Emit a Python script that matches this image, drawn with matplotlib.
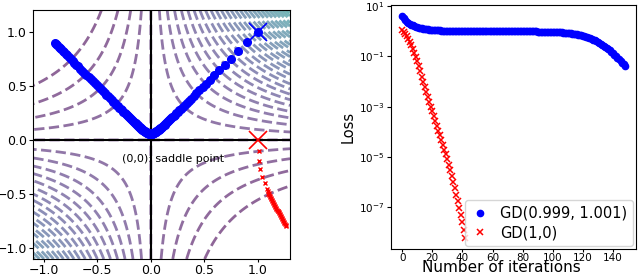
import numpy as np
import matplotlib
matplotlib.use('Agg')
import matplotlib.pyplot as plt

# GD trajectory started at (0.999, 1.001)
blue_x = [0.999, 0.8989, 0.8173, 0.7487, 0.6901, 0.6390, 0.5939, 0.5533, 0.5170, 0.4840,
          0.4538, 0.4262, 0.4007, 0.3772, 0.3553, 0.3350, 0.3160, 0.2983, 0.2817, 0.2662,
          0.2515, 0.2377, 0.2248, 0.2125, 0.2010, 0.1900, 0.1797, 0.1699, 0.1606, 0.1519,
          0.1435, 0.1356, 0.1281, 0.1210, 0.1142, 0.1077, 0.1015, 0.0956, 0.0899, 0.0845,
          0.0794, 0.0744, 0.0696, 0.0650, 0.0606, 0.0564, 0.0523, 0.0484, 0.0446, 0.0409,
          0.0374, 0.0339, 0.0306, 0.0273, 0.0241, 0.0210, 0.0179, 0.0149, 0.0119, 0.0090,
          0.0061, 0.0032, 0.0003, -0.0026,
          -0.0054, -0.0083, -0.0111, -0.0140, -0.0169, -0.0199, -0.0229, -0.0259, -0.0290, -0.0322,
          -0.0354, -0.0387, -0.0421, -0.0456, -0.0492, -0.0529, -0.0567, -0.0607, -0.0648, -0.0690,
          -0.0735, -0.0780, -0.0828, -0.0878, -0.0929, -0.0983, -0.1038, -0.1096, -0.1156, -0.1219,
          -0.1284, -0.1352, -0.1423, -0.1497, -0.1575, -0.1655, -0.1740, -0.1828, -0.1920, -0.2015,
          -0.2115, -0.2218, -0.2326, -0.2438, -0.2554, -0.2675, -0.2800, -0.2931, -0.3067, -0.3207,
          -0.3353, -0.3503, -0.3659, -0.3818, -0.3983, -0.4151, -0.4324, -0.4501, -0.4681, -0.4864,
          -0.5051, -0.5240, -0.5430, -0.5622, -0.5815, -0.6008, -0.6200, -0.6391, -0.6580, -0.6767,
          -0.6950, -0.7130, -0.7305, -0.7476, -0.7641, -0.7800, -0.7952, -0.8098, -0.8238, -0.8370,
          -0.8495, -0.8613, -0.8724, -0.8828, -0.8925]
blue_y = [1.001, 0.9011, 0.8197, 0.7513, 0.6929, 0.6420, 0.5971, 0.5567, 0.5206, 0.4878,
          0.4578, 0.4304, 0.4052, 0.3818, 0.3603, 0.3402, 0.3216, 0.3042, 0.2879, 0.2727,
          0.2584, 0.2450, 0.2324, 0.2206, 0.2095, 0.1990, 0.1892, 0.1799, 0.1711, 0.1629,
          0.1551, 0.1478, 0.1409, 0.1345, 0.1284, 0.1226, 0.1172, 0.1121, 0.1072, 0.1027,
          0.0985, 0.0945, 0.0907, 0.0872, 0.0839, 0.0809, 0.0780, 0.0754, 0.0730, 0.0707,
          0.0687, 0.0668, 0.0651, 0.0636, 0.0622, 0.0610, 0.0599, 0.0590, 0.0582, 0.0577,
          0.0572, 0.0569, 0.0567, 0.0567,
          0.0568, 0.0571, 0.0575, 0.0580, 0.0587, 0.0596, 0.0606, 0.0617, 0.0630, 0.0645,
          0.0661, 0.0678, 0.0698, 0.0719, 0.0741, 0.0766, 0.0792, 0.0821, 0.0851, 0.0883,
          0.0918, 0.0954, 0.0993, 0.1035, 0.1078, 0.1124, 0.1172, 0.1223, 0.1277, 0.1334,
          0.1393, 0.1456, 0.1522, 0.1591, 0.1664, 0.1740, 0.1820, 0.1904, 0.1992, 0.2084,
          0.2180, 0.2280, 0.2385, 0.2494, 0.2607, 0.2726, 0.2848, 0.2977, 0.3111, 0.3249,
          0.3393, 0.3541, 0.3695, 0.3853, 0.4016, 0.4183, 0.4354, 0.4530, 0.4709, 0.4891,
          0.5077, 0.5265, 0.5454, 0.5645, 0.5837, 0.6029, 0.6220, 0.6411, 0.6599, 0.6786,
          0.6968, 0.7148, 0.7322, 0.7493, 0.7657, 0.7816, 0.7968, 0.8113, 0.8253, 0.8385,
          0.8509, 0.8627, 0.8738, 0.8841, 0.8938]
blue_loss = [4.000, 3.276, 2.789, 2.441, 2.185, 1.988, 1.836, 1.711, 1.610, 1.528,
             1.459, 1.400, 1.350, 1.309, 1.272, 1.241, 1.214, 1.190, 1.169, 1.150,
             1.134, 1.120, 1.107, 1.096, 1.086, 1.077, 1.069, 1.062, 1.056, 1.050,
             1.045, 1.041, 1.037, 1.033, 1.030, 1.027, 1.024, 1.022, 1.020, 1.018,
             1.016, 1.014, 1.0127, 1.0114, 1.0102, 1.0091, 1.0082, 1.0073, 1.0065, 1.0058,
             1.0051, 1.0045, 1.0040, 1.0035, 1.0030, 1.0026, 1.0021, 1.0018, 1.0014, 1.0010,
             1.0007, 1.0004, 1.0000, 0.9997,
             0.9994, 0.9991, 0.9987, 0.9984, 0.9980, 0.9976, 0.9972, 0.9968, 0.9963, 0.9959,
             0.9953, 0.9948, 0.9941, 0.9935, 0.9927, 0.9919, 0.9910, 0.9901, 0.9890, 0.9878,
             0.9866, 0.9852, 0.9836, 0.9819, 0.9801, 0.9780, 0.9758, 0.9734, 0.9707, 0.9678,
             0.9645, 0.9610, 0.9571, 0.9529, 0.9483, 0.9432, 0.9376, 0.9316, 0.9249, 0.9177,
             0.9099, 0.9014, 0.8922, 0.8821, 0.8715, 0.8596, 0.8471, 0.8330, 0.8183, 0.8025,
             0.7855, 0.7674, 0.7479, 0.7274, 0.7058, 0.6829, 0.6589, 0.6338, 0.6078, 0.5808,
             0.5529, 0.5245, 0.4953, 0.4659, 0.4364, 0.4068, 0.3775, 0.3485, 0.3201, 0.2926,
             0.2659, 0.2405, 0.2163, 0.1935, 0.1722, 0.1524, 0.1342, 0.1176, 0.1025, 0.0889,
             0.0768, 0.0660, 0.0565, 0.0482, 0.0409]

# GD trajectory started at (1, 0)
red_x = [1.0, 1.006, 1.006, 1.018, 1.040, 1.062, 1.087, 1.095, 1.100, 1.098,
         1.105, 1.110, 1.112, 1.118, 1.123, 1.128, 1.133, 1.138, 1.143, 1.148,
         1.153, 1.158, 1.163, 1.168, 1.173, 1.178, 1.183, 1.188, 1.193, 1.198,
         1.203, 1.208, 1.213, 1.218, 1.223, 1.228, 1.233, 1.238, 1.243, 1.248,
         1.253, 1.258, 1.263]
red_y = [0.0, -0.100, -0.194, -0.270, -0.340, -0.400, -0.457, -0.475, -0.490, -0.500,
         -0.505, -0.515, -0.525, -0.535, -0.544, -0.553, -0.562, -0.571, -0.580, -0.589,
         -0.598, -0.607, -0.616, -0.625, -0.634, -0.643, -0.652, -0.661, -0.670, -0.679,
         -0.688, -0.697, -0.706, -0.715, -0.724, -0.733, -0.742, -0.751, -0.760, -0.769,
         -0.777, -0.786, -0.795]
red_loss = [1.1, 0.977, 0.794, 0.631, 0.490, 0.372, 0.275, 0.200, 0.141, 0.0977,
            0.0631, 0.0398, 0.0251, 0.0158, 0.0100, 6.31e-3, 3.98e-3, 2.51e-3, 1.58e-3, 1.00e-3,
            6.46e-4, 4.17e-4, 2.69e-4, 1.74e-4, 1.12e-4, 7.24e-5, 4.68e-5, 3.02e-5, 1.95e-5, 1.26e-5,
            8.13e-6, 5.01e-6, 3.02e-6, 1.78e-6, 1.02e-6, 5.75e-7, 3.16e-7, 1.70e-7, 9.12e-8, 4.79e-8,
            2.51e-8, 1.26e-8, 6.03e-9]

fig = plt.figure(figsize=(6.4, 2.76), dpi=100)

# left: loss landscape (1 + xy)^2 with the two GD paths
ax1 = fig.add_axes([0.0516, 0.0616, 0.4016, 0.902])
xs = np.linspace(-1.1, 1.3, 400)
ys = np.linspace(-1.1, 1.2, 400)
X, Y = np.meshgrid(xs, ys)
Z = (1 + X * Y) ** 2
ax1.contour(X, Y, Z, levels=np.arange(0.2, 7.0, 0.2), cmap='viridis', vmin=0.2, vmax=13,
            linestyles='dashed', linewidths=2, alpha=0.6)
ax1.axhline(0, color='black', lw=1.5)
ax1.axvline(0, color='black', lw=1.5)
ax1.plot(blue_x, blue_y, 'o', color='blue', ms=5.5)
ax1.plot(red_x[1:], red_y[1:], 'x', color='red', ms=3.5, mew=1)
ax1.plot(blue_x[0], blue_y[0], 'x', color='blue', ms=13, mew=1.2)
ax1.plot(red_x[0], red_y[0], 'x', color='red', ms=13, mew=1.2)
ax1.text(-0.27, -0.2, '(0,0): saddle point', fontsize=8)
ax1.set_xlim(-1.1, 1.3)
ax1.set_ylim(-1.1, 1.2)
ax1.set_xticks([-1.0, -0.5, 0.0, 0.5, 1.0])
ax1.set_yticks([-1.0, -0.5, 0.0, 0.5, 1.0])
ax1.tick_params(labelsize=9)
ax1.tick_params(axis='x', length=2.5, pad=0.8)
ax1.tick_params(axis='y', length=3, pad=1.5)

# right: loss curves
ax2 = fig.add_axes([0.611, 0.0978, 0.383, 0.884])
ax2.semilogy(range(len(blue_loss)), blue_loss, 'o', color='blue', ms=4.5, label='GD(0.999, 1.001)')
ax2.semilogy(range(len(red_loss)), red_loss, 'x', color='red', ms=4.5, mew=1.1, label='GD(1,0)')
ax2.set_xticks(range(0, 141, 20))
ax2.set_xlabel('Number of iterations', fontsize=11, va='baseline')
ax2.xaxis.set_label_coords(0.45, -0.095)
ax2.set_ylabel('Loss', fontsize=10.5, labelpad=2)
ax2.tick_params(labelsize=7.5)
ax2.tick_params(axis='x', length=2.5, pad=0.6)
ax2.tick_params(axis='y', length=3, pad=2)
ax2.legend(loc='lower right', fontsize=10.5, handlelength=1.2, borderpad=0.4,
           labelspacing=0.3, borderaxespad=0.2)

plt.savefig('out.png', dpi=100)
